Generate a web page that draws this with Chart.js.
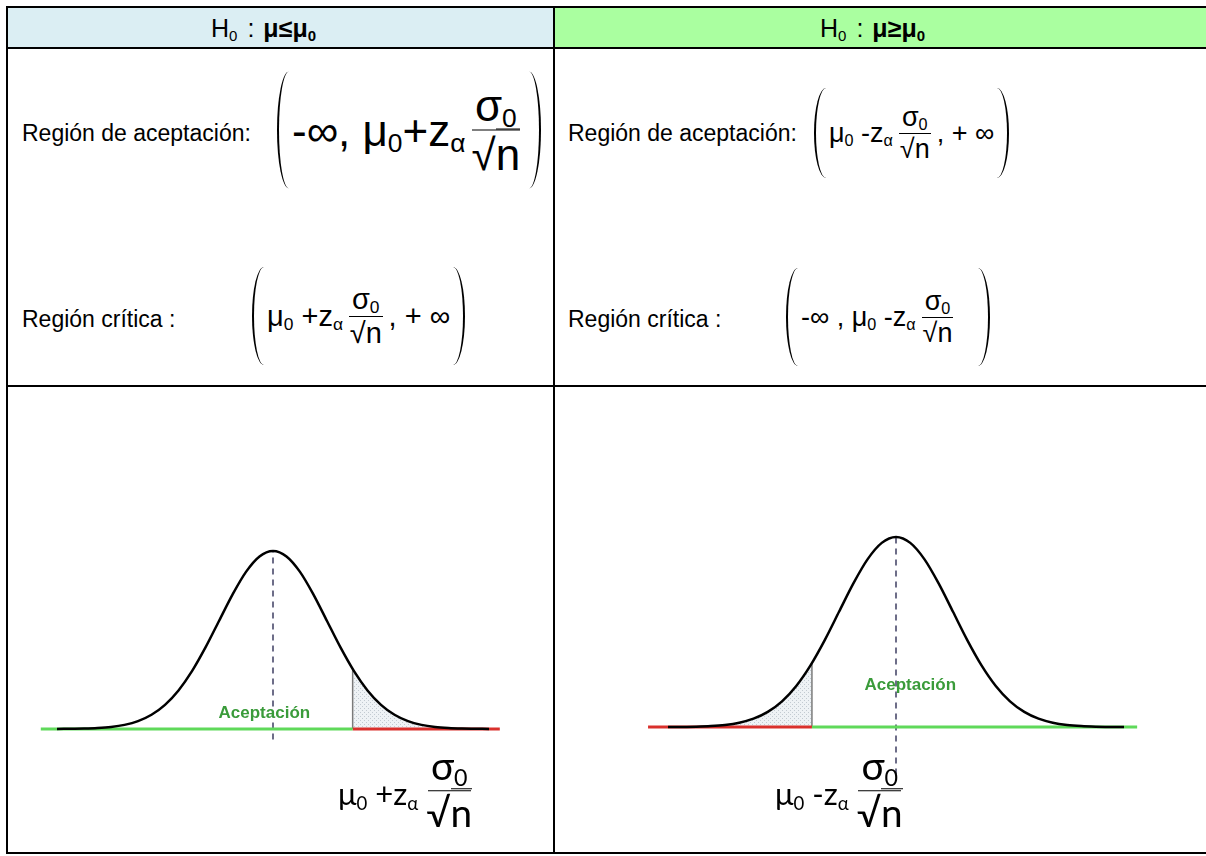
<!DOCTYPE html>
<html lang="es">
<head>
<meta charset="UTF-8">
<title>Contraste unilateral de la media</title>
<script src="https://cdn.jsdelivr.net/npm/chart.js"></script>
<style>
  body { margin: 0; background: #fff; font-family: "Liberation Sans", Arial, sans-serif; color: #000; }
  #page { position: relative; width: 1206px; height: 856px; overflow: hidden; }
  .ln { position: absolute; background: #000; }
  .fill { position: absolute; }
  .txt { position: absolute; font-size: 23px; line-height: 1; transform: translateY(-50%); white-space: nowrap; }
  .cab { position: absolute; top: 8px; height: 39px; line-height: 40px; font-size: 25px; white-space: nowrap; }
  .f { position: absolute; display: flex; align-items: center; transform: translateY(-50%); white-space: nowrap; line-height: 1; }
  .par { width: 12px; box-sizing: border-box; flex: none; }
  .par.l { border-left: 2px solid #000; border-radius: 100% 0 0 100% / 50% 0 0 50%; margin-right: 3px; }
  .par.r { border-right: 2px solid #000; border-radius: 0 100% 100% 0 / 0 50% 50% 0; margin-left: 3px; }
  sub { font-size: 0.6em; vertical-align: -0.25em; line-height: 0; }
  .frac { display: inline-flex; flex-direction: column; align-items: center; margin: 0 6px; }
  .num { border-bottom: 1.5px solid #000; padding: 0 3px 2px; }
  .den { padding-top: 2px; }
  .ov { border-top: 1.5px solid #000; }
  .cal { font-family: Lato, "Open Sans", sans-serif; }
  .cal .frac { font-size: 1.25em; position: relative; top: -5px; margin-left: 8px; }
  .cal .num { padding-bottom: 5px; }
  .box { position: absolute; }
</style>
</head>
<body>
<div id="page">
  <!-- fondos de la cabecera -->
  <div class="fill" style="left:8px;top:8px;width:545px;height:39px;background:#dbeef3"></div>
  <div class="fill" style="left:555px;top:8px;width:660px;height:39px;background:#aaffa0"></div>

  <div class="cab" style="left:211px">H<sub>0</sub><span style="margin:0 9px 0 10px">:</span><b>μ≤μ<sub>0</sub></b></div>
  <div class="cab" style="left:820px">H<sub>0</sub><span style="margin:0 9px 0 10px">:</span><b>μ≥μ<sub>0</sub></b></div>

  <!-- líneas de la tabla -->
  <div class="ln" style="left:6px;top:6px;width:1210px;height:2px"></div>
  <div class="ln" style="left:6px;top:47px;width:1210px;height:2px"></div>
  <div class="ln" style="left:6px;top:385px;width:1210px;height:2px"></div>
  <div class="ln" style="left:6px;top:852px;width:1210px;height:2px"></div>
  <div class="ln" style="left:6px;top:6px;width:2px;height:848px"></div>
  <div class="ln" style="left:553px;top:6px;width:2px;height:848px"></div>

  <!-- izquierda: H0 mu <= mu0 -->
  <div class="txt" style="left:22px;top:133px">Región de aceptación:</div>
  <div class="f" style="left:277px;top:130px;font-size:44px">
    <span class="par l" style="height:117px"></span>
    <span>-∞, μ<sub>0</sub>+z<sub>α</sub></span>
    <span class="frac"><span class="num">σ<sub>0</sub></span><span class="den">√<span class="ov">n</span></span></span>
    <span class="par r" style="height:117px"></span>
  </div>

  <div class="txt" style="left:22px;top:319px">Región crítica :</div>
  <div class="f" style="left:252px;top:316px;font-size:29px">
    <span class="par l" style="height:98px"></span>
    <span>μ<sub>0</sub> +z<sub>α</sub></span>
    <span class="frac"><span class="num">σ<sub>0</sub></span><span class="den">√<span class="ov">n</span></span></span>
    <span>, + ∞</span>
    <span class="par r" style="height:98px"></span>
  </div>

  <!-- derecha: H0 mu >= mu0 -->
  <div class="txt" style="left:568px;top:133px">Región de aceptación:</div>
  <div class="f" style="left:814px;top:133px;font-size:27px">
    <span class="par l" style="height:90px"></span>
    <span>μ<sub>0</sub> -z<sub>α</sub></span>
    <span class="frac"><span class="num">σ<sub>0</sub></span><span class="den">√<span class="ov">n</span></span></span>
    <span>, + ∞</span>
    <span class="par r" style="height:90px"></span>
  </div>

  <div class="txt" style="left:568px;top:319px">Región crítica :</div>
  <div class="f" style="left:786px;top:317px;font-size:27px">
    <span class="par l" style="height:98px"></span>
    <span>-∞ , μ<sub>0</sub> -z<sub>α</sub></span>
    <span class="frac"><span class="num">σ<sub>0</sub></span><span class="den">√<span class="ov">n</span></span></span>
    <span style="width:16px"></span>
    <span class="par r" style="height:98px"></span>
  </div>

  <!-- gráficos -->
  <div class="box" style="left:20px;top:400px;width:500px;height:440px"><canvas id="izq"></canvas></div>
  <div class="box" style="left:620px;top:400px;width:560px;height:450px"><canvas id="der"></canvas></div>

  <div class="f cal" style="left:338px;top:794px;font-size:31px">
    <span>μ<sub>0</sub> +z<sub>α</sub></span>
    <span class="frac"><span class="num">σ<sub>0</sub></span><span class="den">√<span class="ov">n</span></span></span>
  </div>
  <div class="f cal" style="left:775px;top:794px;font-size:31px">
    <span>μ<sub>0</sub> -z<sub>α</sub></span>
    <span class="frac"><span class="num">σ<sub>0</sub></span><span class="den">√<span class="ov">n</span></span></span>
  </div>
</div>

<script>
// curva normal (altura relativa al pico)
const zPuntos = [-4, -3.75, -3.5, -3.25, -3, -2.75, -2.5, -2.25, -2, -1.75, -1.5, -1.25, -1, -0.75, -0.5, -0.25,
                 0, 0.25, 0.5, 0.75, 1, 1.25, 1.5, 1.75, 2, 2.25, 2.5, 2.75, 3, 3.25, 3.5, 3.75, 4];
const altura = [0.0003, 0.0009, 0.0022, 0.0051, 0.0111, 0.0228, 0.0439, 0.0796, 0.1353, 0.2163, 0.3247, 0.4578,
                0.6065, 0.7548, 0.8825, 0.9692, 1, 0.9692, 0.8825, 0.7548, 0.6065, 0.4578, 0.3247, 0.2163,
                0.1353, 0.0796, 0.0439, 0.0228, 0.0111, 0.0051, 0.0022, 0.0009, 0.0003];
const zCritico = 1.475;       // valor crítico (en desviaciones)
const alturaCritica = 0.337;  // altura de la curva en el valor crítico
const textoAceptacion = 'Aceptación';

function trama() {
  const c = document.createElement('canvas');
  c.width = 4; c.height = 4;
  const g = c.getContext('2d');
  g.fillStyle = '#eef2f5';
  g.fillRect(0, 0, 4, 4);
  g.fillStyle = '#c2cad1';
  g.fillRect(0, 0, 1, 1);
  g.fillRect(2, 2, 1, 1);
  return g.createPattern(c, 'repeat');
}

function grafico(id, cfg) {
  const crit = cfg.colaDerecha ? zCritico : -zCritico;
  const curva = zPuntos.map((z, i) => ({ x: z, y: altura[i] }));
  const puntoCrit = { x: crit, y: alturaCritica };
  const cola = cfg.colaDerecha
    ? [puntoCrit].concat(curva.filter(p => p.x > crit))
    : curva.filter(p => p.x < crit).concat([puntoCrit]);

  const verde = '#5fd95a', rojo = '#d9302c';
  const tramoIzq = [{ x: cfg.base[0], y: 0 }, { x: crit, y: 0 }];
  const tramoDer = [{ x: crit, y: 0 }, { x: cfg.base[1], y: 0 }];

  const etiqueta = {
    id: 'etiqueta',
    afterDatasetsDraw(chart) {
      const ctx = chart.ctx;
      ctx.save();
      ctx.font = 'bold 17px "Liberation Sans", Arial';
      ctx.fillStyle = '#3a9b3a';
      ctx.textAlign = 'center';
      ctx.textBaseline = 'middle';
      ctx.fillText(textoAceptacion, chart.scales.x.getPixelForValue(cfg.etiqueta[0]),
                   chart.scales.y.getPixelForValue(cfg.etiqueta[1]));
      ctx.restore();
    }
  };

  return new Chart(document.getElementById(id), {
    type: 'line',
    data: {
      datasets: [
        { data: curva, borderColor: '#000', borderWidth: 2.5, tension: 0.3, pointRadius: 0, fill: false, order: 1 },
        { data: tramoIzq, borderColor: cfg.colaDerecha ? verde : rojo, borderWidth: 3, pointRadius: 0, order: 2 },
        { data: tramoDer, borderColor: cfg.colaDerecha ? rojo : verde, borderWidth: 3, pointRadius: 0, order: 2 },
        { data: [{ x: crit, y: 0 }, puntoCrit], borderColor: '#7a7a7a', borderWidth: 1.5, pointRadius: 0, order: 3 },
        { data: [{ x: 0, y: cfg.guionBajo }, { x: 0, y: 1 }], borderColor: '#6d6d88', borderWidth: 2,
          borderDash: [6, 5], pointRadius: 0, order: 4 },
        { data: cola, borderWidth: 0, borderColor: 'rgba(0,0,0,0)', backgroundColor: trama(), fill: 'origin',
          tension: 0.3, pointRadius: 0, order: 5 }
      ]
    },
    options: {
      responsive: true,
      maintainAspectRatio: false,
      animation: false,
      layout: { padding: 0 },
      plugins: { legend: { display: false }, tooltip: { enabled: false } },
      scales: {
        x: { type: 'linear', display: false, min: cfg.x[0], max: cfg.x[1] },
        y: { display: false, min: cfg.y[0], max: cfg.y[1] }
      }
    },
    plugins: [etiqueta]
  });
}

grafico('izq', { colaDerecha: true, x: [-4.685, 4.574], y: [-0.624, 1.848], base: [-4.3, 4.2],
                 guionBajo: -0.06, etiqueta: [-0.16, 0.09] });
grafico('der', { colaDerecha: false, x: [-4.842, 4.982], y: [-0.647, 1.721], base: [-4.35, 4.23],
                 guionBajo: -0.25, etiqueta: [0.25, 0.22] });
</script>
</body>
</html>
